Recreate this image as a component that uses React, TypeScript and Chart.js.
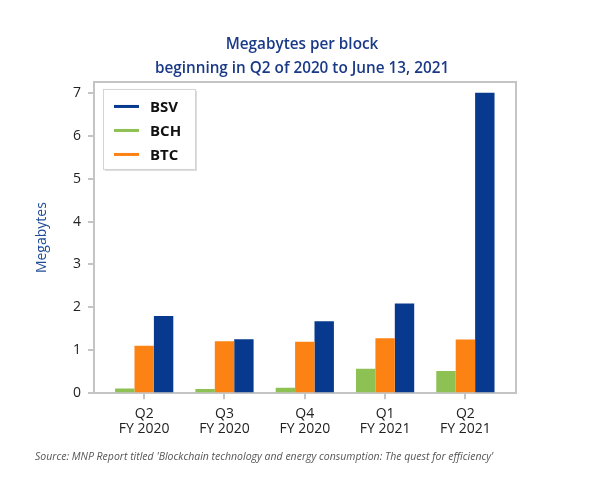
import React, { useEffect, useRef } from "react";
import { Chart, registerables } from "chart.js";

Chart.register(...registerables);

const quarters = ["Q2", "Q3", "Q4", "Q1", "Q2"];
const fiscalYears = ["FY 2020", "FY 2020", "FY 2020", "FY 2021", "FY 2021"];
const bchValues = [0.11, 0.1, 0.13, 0.57, 0.52];
const btcValues = [1.11, 1.21, 1.2, 1.28, 1.25];
const bsvValues = [1.8, 1.26, 1.68, 2.09, 7.0];
const yTicks = [0, 1, 2, 3, 4, 5, 6, 7];
const legendOrder = ["BSV", "BCH", "BTC"];

const titleLines = ["Megabytes per block", "beginning in Q2 of 2020 to June 13, 2021"];
const sourceText =
  "Source: MNP Report titled 'Blockchain technology and energy consumption: The quest for efficiency'";

const COLORS: Record<string, string> = {
  BSV: "#073a8e",
  BCH: "#8dc153",
  BTC: "#fd8214",
};
const AXIS = "#c4c4c4";

const toPoints = (vals: number[]) => vals.map((y, i) => ({ x: i, y }));

const framePlugin = {
  id: "frame",
  afterDraw(chart: any) {
    const { ctx, chartArea } = chart;
    const { left, right, top, bottom } = chartArea;
    ctx.save();
    ctx.strokeStyle = AXIS;
    ctx.lineWidth = 2;
    ctx.beginPath();
    ctx.moveTo(left, top);
    ctx.lineTo(right, top);
    ctx.lineTo(right, bottom);
    ctx.stroke();
    ctx.restore();
  },
};

const sourcePlugin = {
  id: "sourceNote",
  afterDraw(chart: any) {
    const { ctx } = chart;
    ctx.save();
    ctx.font = "italic 10.5px 'Open Sans'";
    ctx.fillStyle = "#555555";
    ctx.textAlign = "left";
    ctx.textBaseline = "middle";
    ctx.fillText(sourceText, 35, 457.5);
    ctx.restore();
  },
};

const legendPlugin = {
  id: "insideLegend",
  afterDraw(chart: any) {
    const { ctx, chartArea } = chart;
    const x = chartArea.left + 9;
    const y = chartArea.top + 7;
    const w = 92;
    const h = 80;
    ctx.save();
    ctx.fillStyle = "#dcdcdc";
    ctx.fillRect(x + 2, y + 2, w, h);
    ctx.fillStyle = "#ffffff";
    ctx.fillRect(x, y, w, h);
    ctx.strokeStyle = "#d4d4d4";
    ctx.lineWidth = 1;
    ctx.strokeRect(x + 0.5, y + 0.5, w, h);
    ctx.font = "bold 15px 'Open Sans'";
    ctx.textBaseline = "middle";
    ctx.textAlign = "left";
    legendOrder.forEach((name, i) => {
      const cy = y + 17.5 + i * 24;
      ctx.strokeStyle = COLORS[name];
      ctx.lineWidth = 3;
      ctx.beginPath();
      ctx.moveTo(x + 11, cy);
      ctx.lineTo(x + 36, cy);
      ctx.stroke();
      ctx.fillStyle = "#111111";
      ctx.fillText(name, x + 47, cy + 1);
    });
    ctx.restore();
  },
};

export default function App() {
  const canvasRef = useRef<HTMLCanvasElement | null>(null);

  useEffect(() => {
    if (!canvasRef.current) return;
    const chart = new Chart(canvasRef.current, {
      type: "bar",
      data: {
        datasets: [
          { label: "BCH", data: toPoints(bchValues), backgroundColor: COLORS.BCH },
          { label: "BTC", data: toPoints(btcValues), backgroundColor: COLORS.BTC },
          { label: "BSV", data: toPoints(bsvValues), backgroundColor: COLORS.BSV },
        ],
      },
      options: {
        responsive: false,
        animation: false,
        layout: { padding: { left: 0, right: 0, top: 0, bottom: 46.7 } },
        datasets: {
          bar: { categoryPercentage: 0.725, barPercentage: 1 },
        },
        scales: {
          x: {
            type: "linear",
            offset: false,
            min: -0.625,
            max: 4.63,
            afterBuildTicks: (scale: any) => {
              scale.ticks = quarters.map((_, i) => ({ value: i }));
            },
            afterFit: (scale: any) => {
              scale.height = 40;
            },
            ticks: {
              autoSkip: false,
              maxRotation: 0,
              padding: 7,
              color: "#222222",
              font: { family: "'Open Sans'", size: 14, lineHeight: 1.1 },
              callback: (_v: any, i: number) => [quarters[i], fiscalYears[i]],
            },
            grid: {
              display: true,
              offset: false,
              drawOnChartArea: false,
              drawTicks: true,
              tickLength: 6,
              color: AXIS,
              lineWidth: 2,
            },
            border: { display: true, color: AXIS, width: 2 },
          },
          y: {
            type: "linear",
            min: 0,
            max: 7.25,
            afterBuildTicks: (scale: any) => {
              scale.ticks = yTicks.map((v) => ({ value: v }));
            },
            afterFit: (scale: any) => {
              scale.width = 94;
            },
            ticks: {
              padding: 7,
              color: "#222222",
              font: { family: "'Open Sans'", size: 14 },
            },
            grid: {
              display: true,
              drawOnChartArea: false,
              drawTicks: true,
              tickLength: 6,
              color: AXIS,
              lineWidth: 2,
            },
            border: { display: true, color: AXIS, width: 2 },
            title: {
              display: true,
              text: "Megabytes",
              color: "#1f4b96",
              font: { family: "'Open Sans'", size: 14 },
              padding: { top: 34, bottom: 0 },
            },
          },
          yRight: {
            type: "linear",
            position: "right",
            display: true,
            min: 0,
            max: 7.25,
            afterFit: (scale: any) => {
              scale.width = 88;
            },
            ticks: { display: false },
            grid: { display: false, drawTicks: false },
            border: { display: false },
          },
        },
        plugins: {
          legend: { display: false },
          tooltip: { enabled: false },
          title: {
            display: true,
            text: titleLines,
            color: "#1a3a88",
            font: { family: "'Open Sans'", size: 15.3, weight: "600", lineHeight: 1.6 },
            padding: { top: 32, bottom: 1 },
          },
        },
      },
      plugins: [framePlugin, legendPlugin, sourcePlugin],
    });
    return () => chart.destroy();
  }, []);

  return (
    <canvas
      ref={canvasRef}
      width={604}
      height={480}
      style={{ position: "fixed", left: 0, top: 0, display: "block", width: 604, height: 480 }}
    />
  );
}
